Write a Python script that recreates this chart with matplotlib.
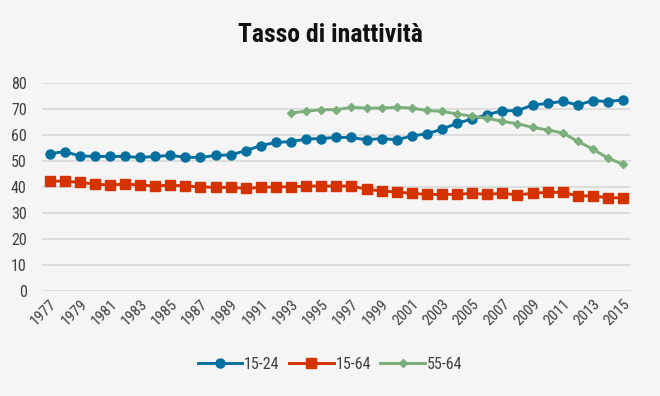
import matplotlib
matplotlib.use("Agg")
import matplotlib.pyplot as plt

years = list(range(1977, 2016))
s_15_24 = [52.8, 53.7, 52.0, 51.8, 51.8, 51.8, 51.4, 51.8, 52.2, 51.5, 51.4, 52.2, 52.4, 54.0,
           56.0, 57.2, 57.5, 58.5, 58.7, 59.1, 59.1, 58.2, 58.7, 58.2, 59.7, 60.5, 62.3, 64.6,
           66.2, 67.9, 69.4, 69.4, 71.6, 72.2, 73.0, 71.6, 73.3, 72.9, 73.6]
s_15_64 = [42.3, 42.3, 41.8, 41.2, 40.8, 41.2, 40.8, 40.4, 40.8, 40.4, 40.1, 39.9, 39.9, 39.5,
           39.9, 40.1, 40.1, 40.4, 40.4, 40.4, 40.4, 39.2, 38.5, 38.1, 37.6, 37.2, 37.2, 37.2,
           37.6, 37.2, 37.6, 37.0, 37.6, 38.0, 38.0, 36.6, 36.6, 35.9, 35.9]
years_55_64 = list(range(1993, 2016))
s_55_64 = [68.5, 69.2, 69.8, 69.8, 70.7, 70.4, 70.4, 70.7, 70.4, 69.5, 69.1, 68.2, 67.2, 66.5,
           65.3, 64.4, 63.0, 62.0, 60.8, 57.6, 54.6, 51.1, 48.8]
yticks = list(range(0, 90, 10))
xtick_years = list(range(1977, 2016, 2))

cond = ["Roboto Condensed", "Liberation Sans Narrow", "DejaVu Sans Condensed", "DejaVu Sans"]
plt.rcParams["font.family"] = cond

bg = "#f5f5f5"
fig = plt.figure(figsize=(6.6, 3.96), dpi=100, facecolor=bg)
ax = fig.add_axes([0.0636, 0.265, 0.892, 0.525], facecolor=bg)

ax.plot(years, s_15_24, color="#05709f", marker="o", markersize=6.5, linewidth=2.1, label="15-24")
ax.plot(years, s_15_64, color="#d43300", marker="s", markersize=6.5, linewidth=2.1, label="15-64")
ax.plot(years_55_64, s_55_64, color="#7aae7a", marker="D", markersize=4.5, linewidth=2.1, label="55-64")

ax.set_xlim(1976.5, 2015.5)
ax.set_ylim(0, 80)
ax.set_yticks(yticks)
ax.set_xticks(xtick_years)
ax.set_xticklabels([str(y) for y in xtick_years], rotation=45, ha="right", rotation_mode="anchor")
ax.grid(axis="y", color="#d9d9d9", linewidth=1.2)
ax.set_axisbelow(True)
for sp in ax.spines.values():
    sp.set_visible(False)
ax.tick_params(axis="both", length=0, colors="#404040", labelcolor="#404040")
ax.tick_params(axis="y", pad=11, labelsize=11.5)
ax.tick_params(axis="x", pad=4, labelsize=11)

fig.text(0.5, 0.912, "Tasso di inattività", ha="center", va="center", fontsize=18.5,
         fontweight="bold", color="#111111")

leg = fig.legend(loc="center", bbox_to_anchor=(0.5, 0.08), ncol=3, frameon=False,
                 fontsize=11.5, handlelength=2.8, columnspacing=0.6, handletextpad=0.1)
for t in leg.get_texts():
    t.set_color("#404040")

fig.savefig("out.png", dpi=100, facecolor=bg)
